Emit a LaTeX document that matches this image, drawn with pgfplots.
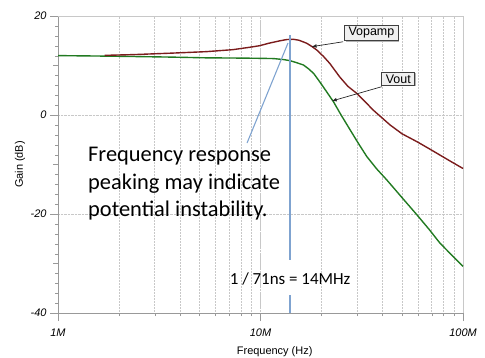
\documentclass[border=0pt]{standalone}
\usepackage{pgfplots}
\pgfplotsset{compat=1.18}
\usepackage{fontspec}
\setmainfont{Liberation Sans}
\newfontfamily\calibri{Carlito}
\usetikzlibrary{shadows}
\definecolor{vopamp}{HTML}{7B1C1C}
\definecolor{vout}{HTML}{217A21}
\definecolor{bl}{HTML}{7FA3D0}
\definecolor{gridc}{HTML}{C8C8C8}
\begin{document}
\begin{tikzpicture}
\useasboundingbox (-58bp,-45bp) rectangle (427bp,313bp);
\begin{axis}[
  at={(0,0)}, anchor=south west,
  scale only axis, width=405bp, height=297bp,
  xmode=log, xmin=1e6, xmax=1e8, ymin=-40, ymax=20,
  axis lines=left, axis line style={-, draw=gray!80},
  xtick={1e6,1e7,1e8}, xticklabels={1M,10M,100M},
  ytick={-40,-20,0,20}, yticklabels={-40,-20,0,20},
  minor ytick={-38,-36,...,18},
  extra y ticks={-30,-10,10}, extra y tick labels={},
  extra y tick style={major tick length=5bp, grid=none},
  tick align=outside,
  major tick length=8bp, minor tick length=3bp,
  x tick style={draw=gray!80}, y tick style={draw=gray!80},
  xminorgrids, xmajorgrids, ymajorgrids,
  grid style={draw=gridc, densely dotted, line width=0.5pt},
  minor grid style={draw=gridc, densely dotted, line width=0.5pt},
  tick label style={font=\fontsize{11}{11}\selectfont\itshape},
  xticklabel style={yshift=-4bp},
  label style={font=\fontsize{11}{11}\selectfont},
  xlabel={Frequency (Hz)},
  ylabel={Gain (dB)},
  x label style={at={(axis description cs:0.535,-0.131)}, anchor=center},
  y label style={at={(axis description cs:-0.094,0.5)}, anchor=center, rotate=0},
  clip=false,
]
\draw[gridc, line width=0.6pt] (rel axis cs:0,1) -- (rel axis cs:1,1) -- (rel axis cs:1,0);

\addplot[vout, line width=1.4pt] coordinates {
(1e6,12.0) (1.7e6,11.9) (2.5e6,11.8) (3.6e6,11.7) (5.4e6,11.55) (7.9e6,11.5)
(10e6,11.45) (11.6e6,11.4) (13e6,11.2) (14e6,10.97) (15e6,10.6) (16.3e6,10.1)
(17.3e6,9.3) (18.3e6,8.4) (19.3e6,7.1) (20.4e6,5.7) (22.9e6,2.7) (25e6,0.0)
(27.7e6,-3.0) (30.5e6,-5.8) (33.5e6,-8.4) (37.5e6,-10.9) (42e6,-13.1)
(50e6,-16.7) (59.3e6,-20.2) (68e6,-23.1) (77e6,-25.9) (88e6,-28.3) (1e8,-30.6)
};
\addplot[vopamp, line width=1.4pt] coordinates {
(1.7e6,12.05) (2.35e6,12.2) (3.65e6,12.5) (5.4e6,12.8) (7.3e6,13.2) (8.9e6,13.7)
(9.9e6,14.0) (11e6,14.5) (12.5e6,15.0) (13.5e6,15.25) (14.5e6,15.3) (15.5e6,15.1)
(16.9e6,14.5) (18e6,13.8) (19e6,13.1) (20.5e6,11.8) (22e6,10.4) (24.6e6,7.7)
(27e6,5.8) (29.8e6,4.4) (33e6,2.6) (36e6,1.0) (43.6e6,-2.0) (50e6,-3.8)
(59.3e6,-5.4) (68e6,-6.8) (77e6,-8.1) (88e6,-9.5) (1e8,-10.8)
};

% blue annotation lines
\draw[bl, line width=1.3pt] (axis cs:1.4e7,16.16) -- (axis cs:1.4e7,-29.3);
\draw[bl, line width=1.3pt] (axis cs:1.4e7,-36.4) -- (axis cs:1.4e7,-40);
\draw[bl, line width=1.1pt] (axis cs:1.367e7,14.55) -- (axis cs:8.58e6,-5.66);

\node[anchor=base west, inner sep=0, font=\calibri\fontsize{22.5}{27}\selectfont] at (axis cs:1.406e6,-9.43) {Frequency response};
\node[anchor=base west, inner sep=0, font=\calibri\fontsize{22.5}{27}\selectfont] at (axis cs:1.406e6,-14.99) {peaking may indicate};
\node[anchor=base west, inner sep=0, font=\calibri\fontsize{22.5}{27}\selectfont] at (axis cs:1.406e6,-20.55) {potential instability.};
\node[anchor=base, inner sep=0, font=\calibri\fontsize{17}{20}\selectfont] at (axis cs:1.4e7,-34.2) {1 / 71ns = 14MHz};

% labels with arrows
\node[draw=black!75, fill=gray!12, line width=0.8pt, inner xsep=4bp, inner ysep=2bp,
  drop shadow={shadow xshift=1bp, shadow yshift=-1bp, fill=gray!60, opacity=1},
  font=\fontsize{12.5}{12.5}\selectfont] at (axis cs:35.3e6,16.57) {Vopamp};
\draw[black!85, line width=0.7pt, -{latex}] (axis cs:25.6e6,14.8) -- (axis cs:17.9e6,13.8);
\node[draw=black!75, fill=gray!12, line width=0.8pt, inner xsep=4bp, inner ysep=2bp,
  drop shadow={shadow xshift=1bp, shadow yshift=-1bp, fill=gray!60, opacity=1},
  font=\fontsize{12.5}{12.5}\selectfont] at (axis cs:47.9e6,7.31) {Vout};
\draw[black!85, line width=0.7pt, -{latex}] (axis cs:39.7e6,5.72) -- (axis cs:22.5e6,2.83);
\end{axis}
\end{tikzpicture}
\end{document}
